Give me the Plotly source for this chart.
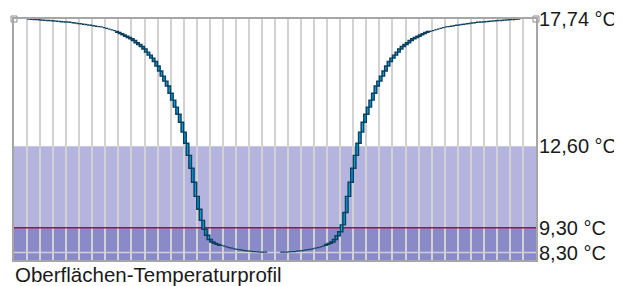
import plotly.graph_objects as go

# ---- data ----
X_MIN, X_MAX = 0, 200          # position along the profile (steps)
Y_MIN, Y_MAX = 8.0, 17.74      # temperature axis (°C)

LEFT_START = 5
LEFT_T = [17.74, 17.73, 17.72, 17.72, 17.71, 17.70, 17.69, 17.68, 17.68, 17.67,
          17.66, 17.65, 17.64, 17.63, 17.62, 17.62, 17.61, 17.59, 17.58, 17.56,
          17.55, 17.53, 17.52, 17.50, 17.49, 17.47, 17.45, 17.43, 17.42, 17.39,
          17.36, 17.33, 17.30, 17.27, 17.24, 17.20, 17.15, 17.10, 17.04, 16.99,
          16.94, 16.87, 16.78, 16.71, 16.63, 16.53, 16.40, 16.28, 16.16, 16.02,
          15.84, 15.64, 15.43, 15.23, 15.03, 14.74, 14.46, 14.18, 13.89, 13.57,
          13.17, 12.72, 12.23, 11.71, 11.14, 10.57, 10.05, 9.60, 9.24, 9.00,
          8.83, 8.73, 8.67, 8.63, 8.59, 8.56, 8.53, 8.50, 8.48, 8.45,
          8.43, 8.42, 8.40, 8.38, 8.37, 8.36, 8.34, 8.34, 8.33, 8.32,
          8.32, 8.32]

RIGHT_START = 102
RIGHT_T = [8.32, 8.32, 8.32, 8.33, 8.34, 8.34, 8.36, 8.37, 8.38, 8.40,
           8.42, 8.43, 8.45, 8.48, 8.50, 8.53, 8.56, 8.59, 8.63, 8.67,
           8.73, 8.83, 8.98, 9.14, 9.42, 9.92, 10.57, 11.14, 11.71, 12.23,
           12.72, 13.17, 13.57, 13.89, 14.18, 14.46, 14.74, 15.03, 15.23, 15.43,
           15.64, 15.84, 16.02, 16.16, 16.28, 16.40, 16.53, 16.63, 16.71, 16.78,
           16.87, 16.94, 16.99, 17.04, 17.10, 17.15, 17.20, 17.24, 17.27, 17.30,
           17.33, 17.36, 17.39, 17.42, 17.43, 17.45, 17.47, 17.49, 17.50, 17.52,
           17.53, 17.55, 17.56, 17.58, 17.59, 17.61, 17.62, 17.62, 17.63, 17.64,
           17.65, 17.66, 17.67, 17.68, 17.68, 17.69, 17.70, 17.71, 17.72, 17.72,
           17.73, 17.74]

T_SURFACE = 17.74   # top level
T_LIMIT1 = 12.60    # upper band limit
T_LIMIT2 = 9.30     # red limit line
T_MIN = 8.30        # minimum line
LABELS = ["17,74 °C", "12,60 °C", "9,30 °C", "8,30 °C"]
LABEL_VALUES = [T_SURFACE, T_LIMIT1, T_LIMIT2, T_MIN]
TITLE = "Oberflächen-Temperaturprofil"

FONT = "Liberation Sans, Arial, sans-serif"


def step_polys(start, vals):
    xs, ys = [], []
    n = len(vals)
    for k in range(n):
        x0 = start + k
        x1 = x0 + 1
        v0 = vals[k]
        v1 = vals[k + 1] if k + 1 < n else vals[k]
        xs += [x0, x1, x1, x0, x0, None]
        ys += [v0, v0, v1, v1, v0, None]
    return xs, ys


fig = go.Figure()

for start, vals in [(LEFT_START, LEFT_T), (RIGHT_START, RIGHT_T)]:
    xs, ys = step_polys(start, vals)
    fig.add_trace(go.Scatter(
        x=xs, y=ys, mode="lines", fill="toself",
        fillcolor="#00A2E6",
        line=dict(color="#0B3F5C", width=1.4),
        hoverinfo="skip", showlegend=False,
    ))

# corner markers
fig.add_trace(go.Scatter(
    x=[X_MIN, X_MAX], y=[T_SURFACE, T_SURFACE], mode="markers",
    marker=dict(symbol="square-open", size=6, color="#8A8A8A",
                line=dict(width=1, color="#8A8A8A")),
    cliponaxis=False, hoverinfo="skip", showlegend=False,
))

shapes = [
    dict(type="rect", xref="x", yref="y", x0=X_MIN, x1=X_MAX, y0=Y_MIN, y1=T_LIMIT1,
         fillcolor="#B4B4DE", line=dict(width=0), layer="below"),
    dict(type="rect", xref="x", yref="y", x0=X_MIN, x1=X_MAX, y0=Y_MIN, y1=T_LIMIT2,
         fillcolor="#8A8AC8", line=dict(width=0), layer="below"),
    dict(type="line", xref="x", yref="y", x0=X_MIN, x1=X_MAX, y0=T_MIN, y1=T_MIN,
         line=dict(color="#D0D0D8", width=1.5), layer="between"),
    dict(type="line", xref="x", yref="y", x0=X_MIN, x1=X_MAX, y0=T_LIMIT2, y1=T_LIMIT2,
         line=dict(color="#A01050", width=1.5), layer="between"),
]

annotations = []
for lab, val in zip(LABELS, LABEL_VALUES):
    annotations.append(dict(
        x=1, xref="paper", y=val, yref="y", text=lab, showarrow=False,
        xanchor="left", yanchor="middle", xshift=1,
        font=dict(family=FONT, size=20, color="#1A1A1A"),
    ))
annotations.append(dict(
    x=0, xref="paper", y=-0.062, yref="paper", text=TITLE, showarrow=False,
    xanchor="left", yanchor="middle", xshift=-1,
    font=dict(family=FONT, size=20.5, color="#1A1A1A"),
))

# page body has an 8px margin: plot area lands at x 14..536, y 19..260
fig.update_layout(
    width=614, height=278,
    margin=dict(l=6, r=86, t=11, b=26),
    paper_bgcolor="white", plot_bgcolor="white",
    shapes=shapes, annotations=annotations,
    xaxis=dict(range=[X_MIN, X_MAX], dtick=5, tick0=0, showgrid=True,
               gridcolor="#D2D2D2", gridwidth=1.5, showticklabels=False,
               ticks="", zeroline=False, showline=True, mirror=True,
               linecolor="#A6A6A6", linewidth=1.5, fixedrange=True),
    yaxis=dict(range=[Y_MIN, Y_MAX], showgrid=False, showticklabels=False,
               ticks="", zeroline=False, showline=True, mirror=True,
               linecolor="#A6A6A6", linewidth=1.5, fixedrange=True),
    showlegend=False,
)

fig.write_html("out.html", config={"displayModeBar": False})
